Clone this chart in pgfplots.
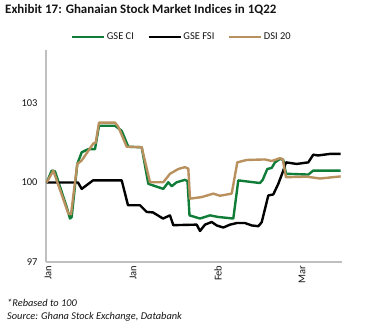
\documentclass[border=0pt]{standalone}
\usepackage{pgfplots}
\pgfplotsset{compat=1.18}
\usepackage{fontspec}
\setmainfont{Carlito}
\definecolor{gsegreen}{RGB}{15,125,55}
\definecolor{dsitan}{RGB}{185,145,95}
\definecolor{axgray}{RGB}{191,191,191}
\definecolor{txt}{RGB}{20,20,20}
\begin{document}
\begin{tikzpicture}[x=1bp,y=1bp]
\useasboundingbox (-46,-63) rectangle (326,262);
\begin{axis}[
  at={(0,0)}, anchor=south west,
  scale only axis, width=296bp, height=212bp,
  xmin=0, xmax=296, ymin=97, ymax=105,
  axis x line*=bottom, axis y line*=left,
  axis line style={axgray, line width=1.3bp},
  ytick={97,100,103},
  xtick={2,87,172,256}, xticklabels={Jan,Jan,Feb,Mar},
  tick style={draw=none},
  /pgf/number format/assume math mode=true,
  x tick label style={rotate=90, anchor=east, font=\fontsize{10.5}{12}\selectfont, text=txt},
  y tick label style={font=\fontsize{10.5}{12}\selectfont, xshift=-5bp, text=txt},
  legend columns=3,
  legend style={draw=none, at={(0.458,1.061)}, anchor=center,
    font=\fontsize{10.5}{12}\selectfont, text=txt,
    /tikz/every odd column/.append style={column sep=0bp},
    /tikz/every even column/.append style={column sep=12bp},
    nodes={inner xsep=1.5bp}},
  legend image code/.code={\draw[#1, line width=2.5bp] (0bp,0bp) -- (32bp,0bp);},
  every axis plot/.append style={line width=2.4bp, line join=round},
]
\addplot[gsegreen] coordinates {
(0.7,100) (5.7,100.45) (9,100.42) (20.7,99.07) (24,98.64) (25.7,98.7) (31.3,100.7) (35.7,101.14)
(42.3,101.26) (49,101.26) (53,102.14) (69,102.14) (75.7,101.95) (82.3,101.35) (95.7,101.33)
(102.3,99.95) (117.3,99.76) (122.3,100.01) (125.7,99.86) (130.7,100.01) (139,100.1) (141.5,100.05)
(143.5,98.76) (154,98.64) (164,98.76) (172,98.7) (187.3,98.64) (192.3,100.08) (200.7,100.04)
(214,99.98) (216.7,100.1) (221.3,100.51) (225.7,100.55) (229,100.76) (234,100.89) (237.3,100.85)
(240,100.33) (262.3,100.3) (267.3,100.45) (294.7,100.45)
};
\addlegendentry{GSE CI}
\addplot[black] coordinates {
(0.7,100) (32,100) (35.7,99.76) (47,100.08) (75.7,100.08) (82,99.14) (94,99.14) (100.7,98.89)
(107,98.87) (117,98.64) (124,98.76) (127.3,98.39) (150.7,98.41) (154,98.17) (159,98.41)
(165.7,98.51) (170.7,98.38) (177.3,98.3) (184,98.41) (190.7,98.47) (199,98.47) (205.7,98.38)
(212.3,98.35) (215.7,98.5) (222.3,99.51) (227.3,99.55) (232.3,99.95) (237.3,100.45) (240,100.76)
(250.7,100.7) (262.3,100.76) (267.3,101.05) (272,101.02) (284,101.08) (294.7,101.08)
};
\addlegendentry{GSE FSI}
\addplot[dsitan] coordinates {
(0.7,100) (7.3,100.45) (22.3,98.83) (25,98.8) (31.3,100.7) (35.7,100.83) (41.3,101.14)
(47.3,101.47) (49.7,101.5) (53,102.26) (69,102.26) (72.3,102.1) (80.7,101.35) (95.7,101.33)
(104,100.01) (117.3,100.01) (124,100.33) (127.3,100.4) (132.3,100.51) (139,100.58) (142.3,100.52)
(144,99.39) (155.7,99.45) (167.3,99.58) (174,99.5) (185.7,99.58) (191.3,100.76) (200.7,100.85)
(219,100.87) (225.7,100.81) (234,100.92) (236.7,100.88) (240,100.2) (260.7,100.22) (274,100.15)
(294.7,100.23)
};
\addlegendentry{DSI 20}
\end{axis}
\node[anchor=base west, inner sep=0, text=txt, font=\bfseries\fontsize{13}{15}\selectfont] at (-41,249) {Exhibit 17: Ghanaian Stock Market Indices in 1Q22};
\node[anchor=base west, inner sep=0, text=txt, font=\itshape\fontsize{10.4}{12}\selectfont] at (-39,-44) {*Rebased to 100};
\node[anchor=base west, inner sep=0, text=txt, font=\itshape\fontsize{10.4}{12}\selectfont] at (-39,-57) {Source: Ghana Stock Exchange, Databank};
\end{tikzpicture}
\end{document}
